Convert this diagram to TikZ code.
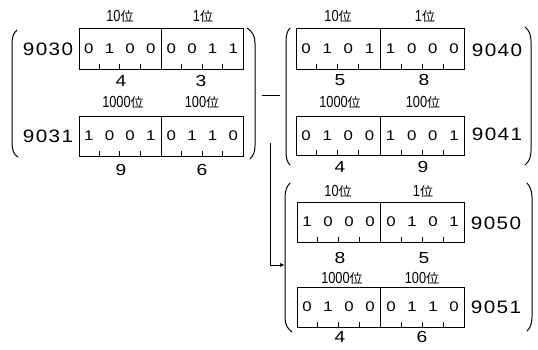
\documentclass[tikz,border=0pt]{standalone}
\usepackage{fontspec}
\setmainfont{Liberation Sans}
\newfontfamily\digf[FakeStretch=1.2]{Liberation Sans}
\newfontfamily\lblf[FakeStretch=1.15,LetterSpace=8]{Liberation Sans}
\newfontfamily\placedig[FakeStretch=0.8]{Liberation Sans}
\newfontfamily\cjkf{Noto Sans CJK JP}
\newcommand\pl[1]{{\placedig\fontsize{16}{16}\selectfont #1}{\cjkf\fontsize{13}{13}\selectfont 位}}
\usetikzlibrary{calc,arrows.meta}
\tikzset{
  regbox/.style={draw, line width=1pt, inner sep=0pt},
  digit/.style={inner sep=0pt, font=\digf\fontsize{14}{14}\selectfont},
  regname/.style={inner sep=0pt, font=\lblf\fontsize{18}{18}\selectfont},
  valnum/.style={inner sep=0pt, font=\digf\fontsize{16}{16}\selectfont},
  place/.style={inner sep=0pt},
  tick/.style={line width=0.9pt},
  paren/.style={line width=1pt, line cap=round},
  conn/.style={line width=1pt}
}
\newcommand\regdraw[6]{%
  \node[regbox, minimum width=#4pt, minimum height=#5pt] (#1) at (#2,#3) {};
  \draw[line width=0.9pt] (#1.north) -- (#1.south);
  \foreach \d [count=\i] in {#6} {
    \node[digit] (#1-\i) at ($(#1.west)!{(\i-0.5)/8}!(#1.east)$) {\d};
  }
  \foreach \i in {1,2,3,5,6,7} {
    \draw[tick] ($(#1.south west)!{\i/8}!(#1.south east)$) -- ++(0,-6);
  }
}
\begin{document}
\begin{tikzpicture}[x=1pt,y=-1pt]
\useasboundingbox (0,0) rectangle (538,349);
% left group
\regdraw{r9030}{161}{48.5}{164}{41}{0,1,0,0,0,0,1,1}
\regdraw{r9031}{161}{136}{164}{40}{1,0,0,1,0,1,1,0}
\node[regname] (n9030) at (48,49) {9030};
\node[regname] (n9031) at (48,136) {9031};
\node[place] (p9030a) at (120,16) {\pl{10}};
\node[place] (p9030b) at (203,16) {\pl{1}};
\node[valnum] (v9030a) at (121,81) {4};
\node[valnum] (v9030b) at (201,81) {3};
\node[place] (p9031a) at (123,102) {\pl{1000}};
\node[place] (p9031b) at (202,102) {\pl{100}};
\node[valnum] (v9031a) at (121,170) {9};
\node[valnum] (v9031b) at (202,170) {6};
\draw[paren] (17,30) .. controls (13,33) and (12,38) .. (12,45) -- (12,143) .. controls (12,150) and (14,155) .. (18,157);
\draw[paren] (247,28) .. controls (252,31) and (255,36) .. (255,43) -- (255,146) .. controls (255,152) and (253,156) .. (250,159);
% upper right group
\regdraw{r9040}{380}{48.5}{168}{41}{0,1,0,1,1,0,0,0}
\regdraw{r9041}{380}{135.5}{168}{39}{0,1,0,0,1,0,0,1}
\node[regname] (n9040) at (497,50) {9040};
\node[regname] (n9041) at (497,134) {9041};
\node[place] (p9040a) at (338,16) {\pl{10}};
\node[place] (p9040b) at (425,16) {\pl{1}};
\node[valnum] (v9040a) at (340,80) {5};
\node[valnum] (v9040b) at (424,80) {8};
\node[place] (p9041a) at (340,102) {\pl{1000}};
\node[place] (p9041b) at (423,102) {\pl{100}};
\node[valnum] (v9041a) at (340,167) {4};
\node[valnum] (v9041b) at (423,167) {9};
\draw[paren] (290,28) .. controls (287,31) and (286,36) .. (286,42) -- (286,151) .. controls (286,158) and (287,162) .. (290,165);
\draw[paren] (525,27) .. controls (529,30) and (531,35) .. (531,41) -- (531,151) .. controls (531,157) and (529,162) .. (525,165);
% lower right group
\regdraw{r9050}{380.5}{222}{167}{40}{1,0,0,0,0,1,0,1}
\regdraw{r9051}{380.5}{307}{167}{40}{0,1,0,0,0,1,1,0}
\node[regname] (n9050) at (496,223) {9050};
\node[regname] (n9051) at (496,307) {9051};
\node[place] (p9050a) at (338,191) {\pl{10}};
\node[place] (p9050b) at (423,191) {\pl{1}};
\node[valnum] (v9050a) at (340,258) {8};
\node[valnum] (v9050b) at (424,258) {5};
\node[place] (p9051a) at (342,278) {\pl{1000}};
\node[place] (p9051b) at (422,278) {\pl{100}};
\node[valnum] (v9051a) at (340,337) {4};
\node[valnum] (v9051b) at (422,337) {6};
\draw[paren] (290,183) .. controls (287,186) and (285,191) .. (285,197) -- (285,318) .. controls (285,325) and (288,329) .. (292,332);
\draw[paren] (527,183) .. controls (530,186) and (532,191) .. (532,197) -- (532,317) .. controls (532,324) and (530,328) .. (527,331);
% connectors
\coordinate (dashL) at (262,95);
\coordinate (dashR) at (280,95);
\coordinate (arrS) at (270,143);
\coordinate (arrE) at (285,265);
\draw[conn] (dashL) -- (dashR);
\draw[conn, -{Latex[length=5pt,width=4pt]}] (arrS) |- (arrE);
\end{tikzpicture}
\end{document}
